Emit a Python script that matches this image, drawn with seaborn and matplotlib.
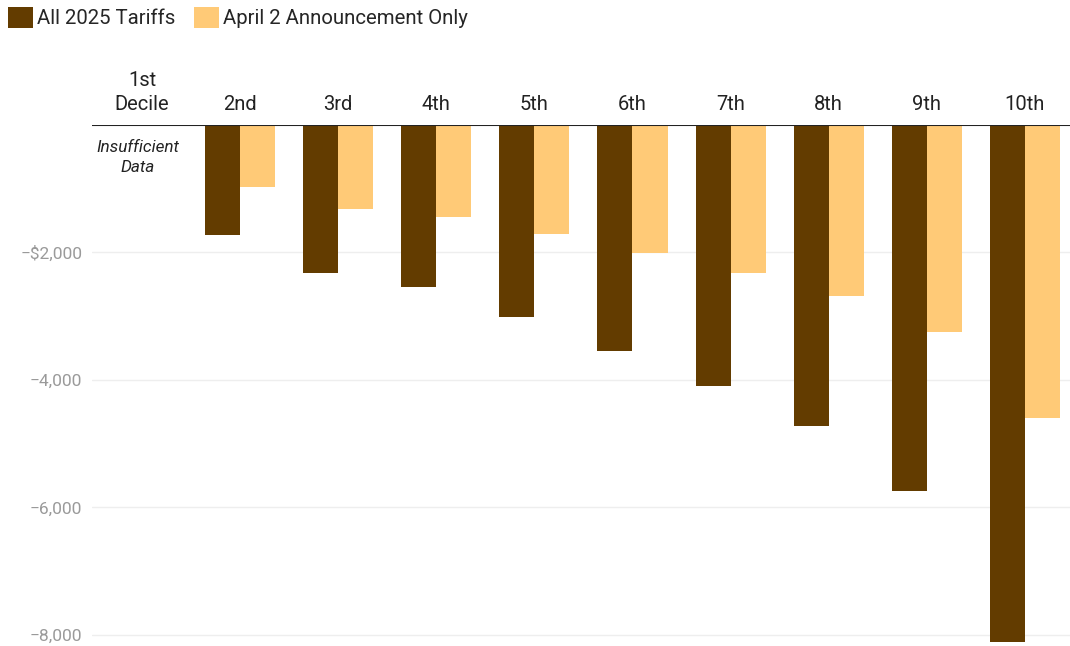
import matplotlib
matplotlib.use("Agg")
import matplotlib.pyplot as plt
import seaborn as sns
import pandas as pd
import numpy as np

categories = ["1st\nDecile", "2nd", "3rd", "4th", "5th", "6th", "7th", "8th", "9th", "10th"]
series_names = ["All 2025 Tariffs", "April 2 Announcement Only"]
all_tariffs = [None, -1725, -2322, -2541, -3012, -3545, -4094, -4722, -5741, -8110]
april2_only = [None, -973, -1318, -1443, -1710, -2008, -2322, -2682, -3247, -4596]
yticks = [-2000, -4000, -6000, -8000]
ytick_labels = ["\u2212$2,000", "\u22124,000", "\u22126,000", "\u22128,000"]
colors = ["#633C00", "#FFCA77"]

rows = []
for c, a, b in zip(categories, all_tariffs, april2_only):
    if a is not None:
        rows.append({"decile": c, "series": series_names[0], "value": a})
    if b is not None:
        rows.append({"decile": c, "series": series_names[1], "value": b})
df = pd.DataFrame(rows)

sns.set_theme(style="white")
plt.rcParams["font.family"] = ["Roboto", "DejaVu Sans"]

W, H = 1070, 646
fig = plt.figure(figsize=(W / 100, H / 100), dpi=100)
ax_left, ax_right, ax_top, ax_bottom = 92, 1070, 125, 646
ax = fig.add_axes([ax_left / W, 1 - ax_bottom / H, (ax_right - ax_left) / W, (ax_bottom - ax_top) / H])

sns.barplot(data=df, x="decile", y="value", hue="series", order=categories,
            hue_order=series_names, palette=colors, width=0.714, saturation=1,
            errorbar=None, ax=ax, edgecolor="none", linewidth=0)

ax.set_xlim(-0.51, 9.46)
ax.set_ylim(-8173, 0)
ax.set_xlabel("")
ax.set_ylabel("")
for s in ax.spines.values():
    s.set_visible(False)

ax.set_yticks(yticks)
ax.set_yticklabels(ytick_labels)
ax.yaxis.grid(True, color="#EEEEEE", linewidth=1)
ax.set_axisbelow(True)
ax.tick_params(axis="y", length=0, pad=7, labelsize=12.5, labelcolor="#9A9A9A")

ax.xaxis.tick_top()
ax.tick_params(axis="x", length=0, pad=8, labelsize=14.5, labelcolor="#222222")
for lbl in ax.get_xticklabels():
    lbl.set_linespacing(1.3)

ax.axhline(0, color="#222222", linewidth=1.5, zorder=5)

ax.text(-0.04, -230, "Insufficient\nData", ha="center", va="top", style="italic",
        fontsize=12.3, color="#222222", linespacing=1.45)

handles, labels = ax.get_legend_handles_labels()
ax.legend(handles, labels, loc="upper left",
          bbox_to_anchor=(-(ax_left - 8) / (ax_right - ax_left), 1 + (ax_top - 7) / (ax_bottom - ax_top)),
          ncol=2, frameon=False, fontsize=14.7, handlelength=1.22, handleheight=1.22,
          handletextpad=0.2, columnspacing=0.9, borderaxespad=0, borderpad=0)

fig.savefig("out.png", dpi=100)
